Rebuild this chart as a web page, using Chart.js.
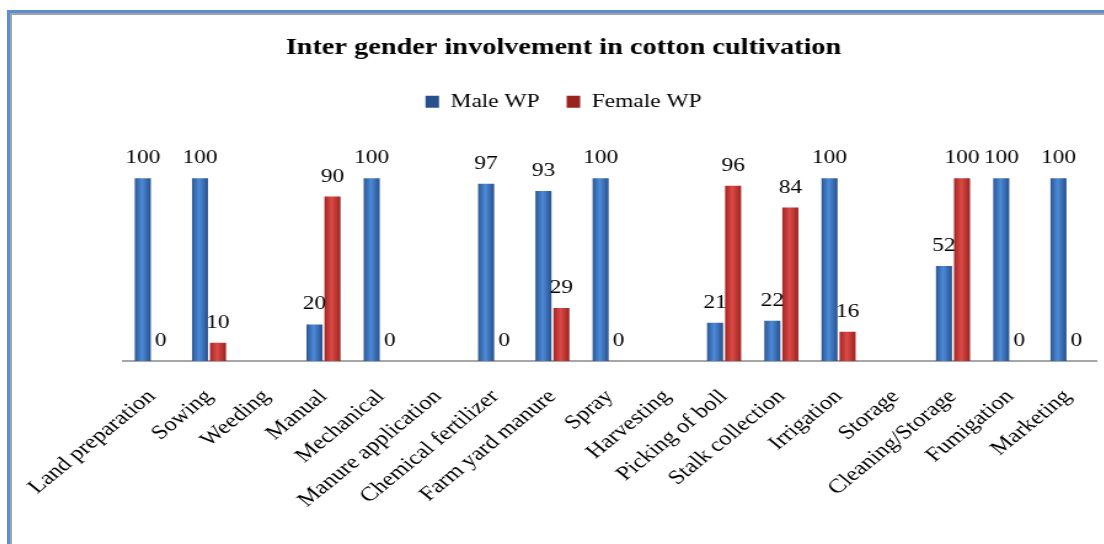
<!DOCTYPE html>
<html><head><meta charset="utf-8">
<script src="https://cdn.jsdelivr.net/npm/chart.js@4.4.0/dist/chart.umd.min.js"></script>
<style>
html,body{margin:0;padding:0;background:#fff;overflow:hidden;width:1104px;height:544px;position:relative;}
#wrap{position:absolute;left:10px;top:0;width:900px;height:544px;transform:scaleX(1.23);transform-origin:0 0;}
#frameBlue{position:absolute;left:7px;top:10px;width:1200px;height:600px;border-left:3px solid #5B8ED6;border-top:3px solid #5B8ED6;}
#frameGrey{position:absolute;left:10px;top:13px;width:1200px;height:600px;border-left:2px solid #A3A3A3;border-top:2px solid #A3A3A3;}
</style></head>
<body>
<div id="wrap"><canvas id="c" width="900" height="544"></canvas></div>
<div id="frameBlue"></div><div id="frameGrey"></div>
<script>
const titleText = 'Inter gender involvement in cotton cultivation';
const seriesNames = ['Male WP', 'Female WP'];
const categories = ['Land preparation','Sowing','Weeding','Manual','Mechanical','Manure application','Chemical fertilizer','Farm yard manure','Spray','Harvesting','Picking of boll','Stalk collection','Irrigation','Storage','Cleaning/Storage','Fumigation','Marketing'];
const maleWP   = [100,100,null,20,100,null,97,93,100,null,21,22,100,null,52,100,100];
const femaleWP = [0,10,null,90,0,null,0,29,0,null,96,84,16,null,100,0,0];
const yTicks = {min: 0, max: 120};

const FONT = 'Liberation Serif';
const blue = {mid:'#3C72BC', edge:'#2B5794', light:'#4C8AD8', dark:'#28508C'};
const red  = {mid:'#C23A37', edge:'#A32624', light:'#DC4A46', dark:'#9A2320'};

function barFill(base){
  return (c) => {
    if (c.type !== 'data') return base.mid;
    const chart = c.chart;
    const el = chart.getDatasetMeta(c.datasetIndex).data[c.dataIndex];
    if (!el || !isFinite(el.x) || !el.width) return base.mid;
    const g = chart.ctx.createLinearGradient(el.x - el.width/2, 0, el.x + el.width/2, 0);
    g.addColorStop(0, base.edge);
    g.addColorStop(0.45, base.light);
    g.addColorStop(1, base.dark);
    return g;
  };
}

const valueLabels = {
  id: 'valueLabels',
  afterDatasetsDraw(chart){
    const ctx = chart.ctx;
    ctx.save();
    ctx.font = '19px "' + FONT + '"';
    ctx.fillStyle = '#000';
    ctx.textAlign = 'center';
    ctx.textBaseline = 'alphabetic';
    chart.data.datasets.forEach((ds, di) => {
      const meta = chart.getDatasetMeta(di);
      meta.data.forEach((bar, i) => {
        const v = ds.data[i];
        if (v === null || v === undefined) return;
        ctx.fillText(String(v), bar.x, bar.y - 15);
      });
    });
    ctx.restore();
  }
};

const hidden = {display:false, drawTicks:false};
const chart = new Chart(document.getElementById('c'), {
  type: 'bar',
  data: {
    labels: categories,
    datasets: [
      {label: seriesNames[0], data: maleWP, backgroundColor: barFill(blue), borderWidth: 0, xAxisID:'x', yAxisID:'y'},
      {label: seriesNames[1], data: femaleWP, backgroundColor: barFill(red), borderWidth: 0, xAxisID:'x', yAxisID:'y'}
    ]
  },
  options: {
    responsive: false,
    animation: false,
    categoryPercentage: 0.63,
    barPercentage: 0.89,
    layout: {padding: 0},
    plugins: {
      title: {display:true, text:titleText, color:'#000', font:{family:FONT, size:23, weight:'bold'}, padding:{top:34, bottom:8.7}},
      legend: {display:true, position:'top', labels:{color:'#000', font:{family:FONT, size:19}, boxWidth:11, boxHeight:12, padding:22}},
      tooltip: {enabled:false}
    },
    scales: {
      x: {position:'bottom', grid: hidden, border:{display:true, color:'#A6A6A6', width:2},
          ticks:{color:'#000', font:{family:FONT, size:20}, minRotation:45, maxRotation:45, padding:24, autoSkip:false},
          afterFit(s){ s.height = 183; s.paddingLeft = 0; s.paddingRight = 0; }},
      xTop: {type:'category', position:'top', display:true, grid: hidden, border:{display:false}, ticks:{display:false},
          afterFit(s){ s.height = 20.5; }},
      y: {position:'left', min:yTicks.min, max:yTicks.max, display:true, grid: hidden, border:{display:false}, ticks:{display:false},
          afterFit(s){ s.width = 92; }},
      yRight: {type:'linear', position:'right', display:true, grid: hidden, border:{display:false}, ticks:{display:false},
          afterFit(s){ s.width = 17; }}
    }
  },
  plugins: [valueLabels]
});
chart.update('none');
</script>
</body></html>
